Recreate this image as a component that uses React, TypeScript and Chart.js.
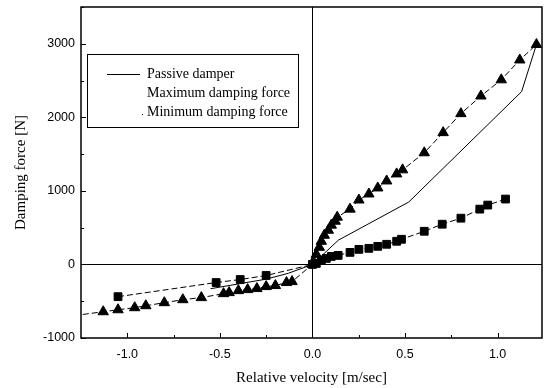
import React, { useEffect, useRef } from "react";
import { Chart, registerables } from "chart.js";

Chart.register(...registerables);

// Tick labels / axis ranges
const xTicks = [-1.0, -0.5, 0.0, 0.5, 1.0];
const yTicks = [-1000, 0, 1000, 2000, 3000];

// Passive damper (solid line)
const passiveX = [-0.55, -0.25, -0.13, 0, 0.14, 0.52, 1.13, 1.21];
const passiveY = [-330, -200, -120, 0, 330, 848, 2350, 2990];

// Maximum damping force (triangles)
const maxX = [-1.24, -1.13, -1.05, -0.96, -0.9, -0.8, -0.7, -0.6, -0.48, -0.45, -0.4, -0.35, -0.3, -0.25, -0.2, -0.14, -0.11, 0, 0.005, 0.021, 0.037, 0.048, 0.064, 0.086, 0.102, 0.123, 0.134, 0.203, 0.251, 0.305, 0.353, 0.401, 0.455, 0.487, 0.604, 0.706, 0.802, 0.91, 1.02, 1.12, 1.21];
const maxY = [-680, -643, -616, -588, -561, -520, -479, -451, -397, -383, -356, -342, -328, -301, -287, -246, -233, 0, 41, 137, 233, 315, 397, 465, 534, 588, 643, 752, 876, 958, 1040, 1135, 1231, 1286, 1518, 1792, 2050, 2290, 2510, 2780, 2990];

// Minimum damping force (squares)
const minX = [-1.05, -0.52, -0.39, -0.25, 0, 0.021, 0.048, 0.075, 0.102, 0.139, 0.203, 0.251, 0.305, 0.353, 0.401, 0.455, 0.481, 0.604, 0.701, 0.802, 0.904, 0.947, 1.043];
const minY = [-438, -246, -205, -150, 0, 14, 55, 82, 109, 123, 164, 205, 219, 246, 274, 315, 342, 451, 547, 629, 752, 807, 889];

const labels = ["Passive damper", "Maximum damping force", "Minimum damping force"];

const toPts = (xs: number[], ys: number[]) => xs.map((x, i) => ({ x, y: ys[i] }));

const framePlugin = {
  id: "frame",
  beforeDatasetsDraw(chart: any) {
    const { ctx, chartArea: a, scales } = chart;
    const xs = scales.x, ys = scales.y;
    ctx.save();
    ctx.strokeStyle = "#000";
    ctx.lineWidth = 1;
    const x0 = Math.round(xs.getPixelForValue(0)) + 0.5;
    const y0 = Math.round(ys.getPixelForValue(0)) + 0.5;
    ctx.beginPath();
    ctx.moveTo(x0, a.top); ctx.lineTo(x0, a.bottom);
    ctx.moveTo(a.left, y0); ctx.lineTo(a.right, y0);
    ctx.stroke();
    ctx.beginPath();
    for (let v = -1000; v <= 3500; v += 500) {
      const y = Math.round(ys.getPixelForValue(v)) + 0.5;
      const len = v % 1000 === 0 ? 5 : 3;
      ctx.moveTo(a.left, y); ctx.lineTo(a.left + len, y);
    }
    for (let k = -4; k <= 4; k++) {
      const v = k * 0.25;
      const x = Math.round(xs.getPixelForValue(v)) + 0.5;
      const len = k % 2 === 0 ? 5 : 3;
      ctx.moveTo(x, a.bottom); ctx.lineTo(x, a.bottom - len);
    }
    ctx.stroke();
    ctx.lineWidth = 1.5;
    ctx.strokeRect(a.left, a.top, a.right - a.left, a.bottom - a.top);
    ctx.restore();
  },
  afterDraw(chart: any) {
    const { ctx, chartArea: a } = chart;
    const bx = a.left + 6, by = a.top + 47, bw = 211, bh = 73;
    ctx.save();
    ctx.fillStyle = "#fff";
    ctx.fillRect(bx, by, bw, bh);
    ctx.strokeStyle = "#000";
    ctx.lineWidth = 1;
    ctx.strokeRect(bx + 0.5, by + 0.5, bw, bh);
    ctx.font = "14px 'Liberation Serif', serif";
    ctx.fillStyle = "#000";
    ctx.textBaseline = "middle";
    const rows = [20, 39, 58];
    ctx.beginPath();
    ctx.moveTo(bx + 20, by + rows[0] + 0.5);
    ctx.lineTo(bx + 53, by + rows[0] + 0.5);
    ctx.stroke();
    labels.forEach((t, i) => ctx.fillText(t, bx + 60, by + rows[i]));
    ctx.fillRect(bx + 55, by + rows[2] + 2, 1, 1);
    ctx.restore();
  },
};

export default function App() {
  const ref = useRef<HTMLCanvasElement>(null);
  useEffect(() => {
    if (!ref.current) return;
    const tickFont = { family: "'Liberation Sans', Arial, sans-serif", size: 12.5 };
    const chart = new Chart(ref.current, {
      type: "scatter",
      data: {
        datasets: [
          {
            label: labels[0],
            data: toPts(passiveX, passiveY),
            showLine: true,
            borderColor: "#000",
            borderWidth: 1,
            pointRadius: 0,
            backgroundColor: "#000",
          },
          {
            label: labels[1],
            data: toPts(maxX, maxY),
            showLine: true,
            borderColor: "#000",
            borderWidth: 1,
            borderDash: [6, 3],
            pointStyle: "triangle",
            pointRadius: maxX.map((x) => (x < -1.2 ? 0 : 6)),
            backgroundColor: "#000",
            pointBorderColor: "#000",
          },
          {
            label: labels[2],
            data: toPts(minX, minY),
            showLine: true,
            borderColor: "#000",
            borderWidth: 1,
            borderDash: [6, 3],
            pointStyle: "rect",
            pointRadius: 5.5,
            backgroundColor: "#000",
            pointBorderColor: "#000",
          },
        ],
      },
      options: {
        animation: false,
        responsive: false,
        layout: { padding: { top: 7, right: 2, left: 0, bottom: 0 } },
        plugins: { legend: { display: false }, tooltip: { enabled: false } },
        scales: {
          x: {
            type: "linear",
            min: -1.25,
            max: 1.24,
            grid: { display: false, drawTicks: false },
            border: { display: false },
            afterBuildTicks: (s: any) => {
              s.ticks = xTicks.map((v) => ({ value: v }));
            },
            afterFit: (s: any) => {
              s.height = 50;
              s.paddingLeft = 0;
              s.paddingRight = 0;
            },
            ticks: {
              color: "#000",
              font: tickFont,
              padding: 9,
              maxRotation: 0,
              callback: (v: any) => Number(v).toFixed(1),
            },
            title: {
              display: true,
              text: "Relative velocity [m/sec]",
              color: "#000",
              font: { family: "'Liberation Serif', serif", size: 15 },
              padding: { top: 0, bottom: 1 },
            },
          },
          y: {
            type: "linear",
            min: -1000,
            max: 3500,
            grid: { display: false, drawTicks: false },
            border: { display: false },
            afterBuildTicks: (s: any) => {
              s.ticks = yTicks.map((v) => ({ value: v }));
            },
            afterFit: (s: any) => {
              s.width = 81;
              s.paddingTop = 0;
              s.paddingBottom = 0;
            },
            ticks: {
              color: "#000",
              font: tickFont,
              padding: 6,
              callback: (v: any) => String(v),
            },
            title: {
              display: true,
              text: "Damping force [N]",
              color: "#000",
              font: { family: "'Liberation Serif', serif", size: 15 },
              padding: { top: 12, bottom: 0 },
            },
          },
        },
      },
      plugins: [framePlugin],
    });
    return () => chart.destroy();
  }, []);
  return (
    <div style={{ position: "fixed", left: 0, top: 0, width: 549, height: 388, background: "#fff" }}>
      <canvas ref={ref} width={549} height={388} />
    </div>
  );
}
